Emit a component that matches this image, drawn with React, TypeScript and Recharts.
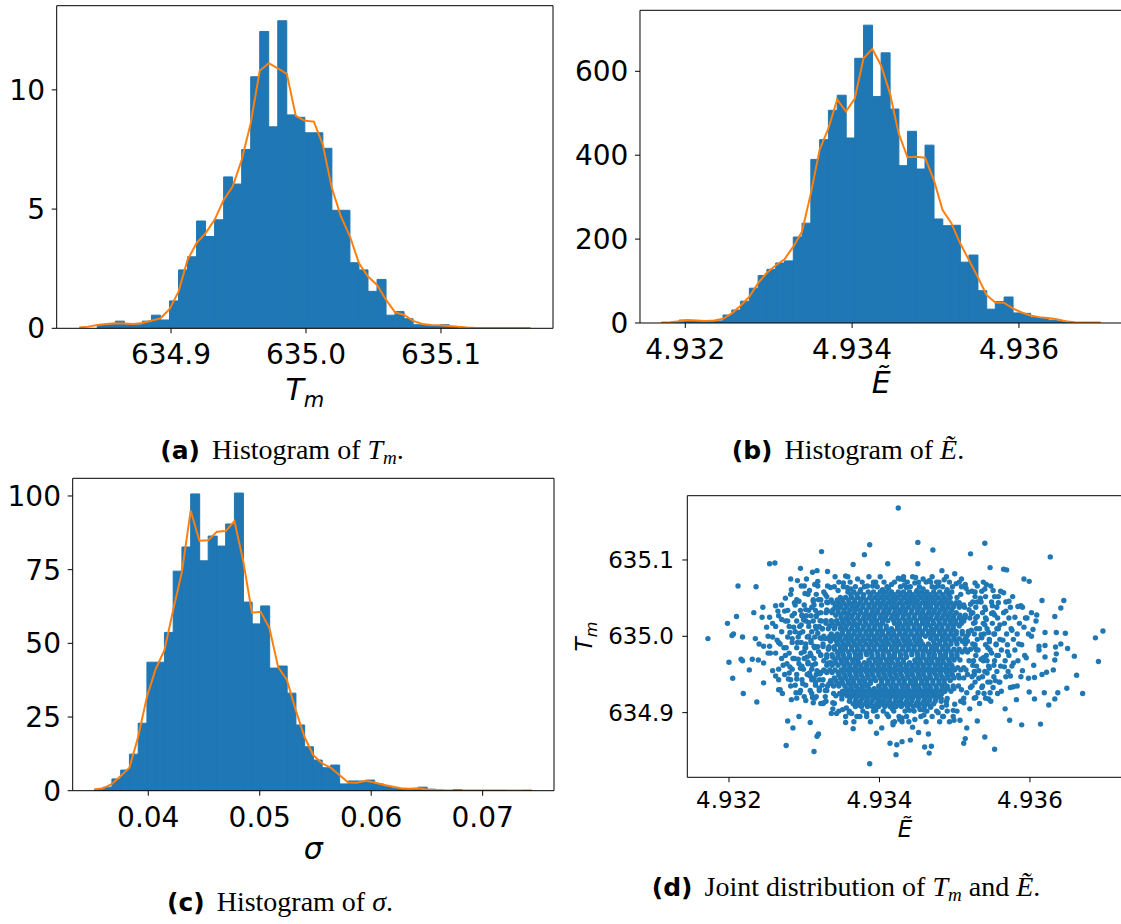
import React from 'react';
import { ComposedChart, ScatterChart, Bar, Line, Scatter, XAxis, YAxis, Label, ReferenceLine } from 'recharts';

const FONT = '"DejaVu Sans", sans-serif';
const SERIF = '"Liberation Serif", "Times New Roman", serif';
const BLUE = '#1f77b4';
const ORANGE = '#ff7f0e';

// ---------- Panel (a): histogram of T_m (density) ----------
const tmRange: [number, number] = [634.832, 635.1663];
const tmAxisDomain: [number, number] = [634.8153, 635.183];
const tmDensityDomain: [number, number] = [0, 13.53];
const tmTicks = [634.9, 635.0, 635.1];
const tmDensityTicks = [0, 5, 10];
const tmBins = [0, 0, 0.15, 0.15, 0.3, 0.15, 0.15, 0.3, 0.55, 0.35, 1.15, 2.45, 3.0, 4.5, 3.85, 4.55, 6.35, 6.05, 7.5, 10.55, 12.45, 8.45, 12.9, 8.95, 8.85, 8.2, 8.2, 7.55, 4.95, 4.95, 2.75, 2.45, 1.55, 2.05, 0.55, 0.7, 0.4, 0.15, 0.15, 0.1, 0.15, 0.05, 0, 0, 0, 0, 0, 0, 0, 0];
const tmCurve = [0.03, 0.07, 0.14, 0.18, 0.21, 0.2, 0.18, 0.22, 0.32, 0.42, 0.8, 1.54, 2.87, 3.57, 3.99, 4.55, 5.38, 5.94, 7.06, 8.6, 10.8, 11.12, 10.9, 10.67, 8.91, 8.7, 8.67, 7.69, 5.87, 4.69, 3.85, 2.73, 2.17, 1.82, 1.19, 0.67, 0.56, 0.31, 0.18, 0.14, 0.13, 0.1, 0.06, 0.03, 0.01, 0.01, 0.01, 0.01, 0.01, 0.01, 0.01];

// ---------- Panel (b): histogram of E~ (density) ----------
const eRange: [number, number] = [4.931715, 4.93698];
const eAxisDomain: [number, number] = [4.931457, 4.937239];
const eDensityDomain: [number, number] = [0, 745.4];
const eTicks = [4.932, 4.934, 4.936];
const eDensityTicks = [0, 200, 400, 600];
const eBins = [1, 1, 7, 6, 4, 4, 5, 19, 31, 52, 83, 113, 128, 143, 148, 205, 238, 390, 437, 507, 543, 441, 631, 710, 540, 644, 510, 375, 457, 367, 424, 248, 232, 233, 145, 162, 77, 33, 51, 62, 24, 23, 13, 11, 7, 5, 2, 1, 1, 0];
const eCurve = [1, 2, 4, 7, 6, 5, 6, 10, 23, 41, 63, 95, 120, 137, 152, 182, 218, 309, 413, 464, 533, 504, 535, 631, 653, 614, 548, 452, 395, 396, 394, 341, 269, 238, 190, 150, 110, 67, 49, 48, 35, 25, 18, 14, 12, 9, 4, 2, 1, 1, 1];

// ---------- Panel (c): histogram of sigma (density) ----------
const sRange: [number, number] = [0.03517, 0.07442];
const sAxisDomain: [number, number] = [0.03322, 0.0764];
const sDensityDomain: [number, number] = [0, 106];
const sTicks = [0.04, 0.05, 0.06, 0.07];
const sDensityTicks = [0, 25, 50, 75, 100];
const sBins = [0.5, 1.2, 4, 7, 12.4, 22.9, 43.6, 43.6, 53.7, 74.5, 82.7, 100.7, 78, 86.4, 83, 90.5, 101, 64, 56.6, 62.7, 41.6, 42.3, 33.1, 22.3, 14.9, 10.4, 7.8, 8.7, 2.3, 3.3, 3.3, 3.6, 2.3, 1.4, 0.8, 0.6, 0.5, 1.2, 0.5, 0.2, 0.1, 0.4, 0.1, 0.1, 0.1, 0.1, 0.1, 0, 0, 0.1];
const sCurve = [0.45, 0.8, 2.3, 5, 7.8, 18.3, 31.9, 41.3, 47.7, 61.3, 74.3, 95, 84.8, 85, 87.9, 88.1, 91.5, 78, 60.4, 60.7, 55.2, 41.9, 37.6, 27.4, 18.3, 12.1, 9.3, 7.8, 5.3, 2.8, 2.7, 3.4, 2.8, 2, 1.4, 0.8, 0.7, 0.8, 0.45, 0.2, 0.1, 0.1, 0.1, 0.1, 0.1, 0.1, 0.05, 0.05, 0.05, 0.05, 0.05];

// ---------- Panel (d): joint samples (E~, T_m) ----------
const jointEDomain: [number, number] = [4.931446, 4.937231];
const jointTmDomain: [number, number] = [634.8153, 635.1842];

// sparse outer samples [E, Tm]
const jointOuter: [number, number][] = [
  [4.93172,634.997],[4.93198,635.017],[4.93210,635.026],[4.93212,635.066],[4.93236,635.065],[4.93204,635.001],[4.93206,635.003],[4.93218,634.999],
  [4.93200,634.966],[4.93216,634.970],[4.93218,634.968],[4.93205,634.945],[4.93227,634.956],[4.93231,634.970],[4.93239,634.969],[4.93235,634.997],
  [4.93233,635.031],[4.93245,635.038],[4.93219,634.925],[4.93237,634.914],[4.93246,634.939],[4.93246,634.987],[4.93254,635.095],[4.93261,635.096],
  [4.93282,635.075],[4.93291,635.073],[4.93295,635.089],[4.93303,635.075],[4.93311,635.084],[4.93317,635.086],[4.93323,635.111],[4.93331,635.085],
  [4.93341,635.078],[4.93355,635.079],[4.93365,635.094],[4.93380,635.107],[4.93387,635.120],[4.93411,635.095],[4.93425,635.168],[4.93278,634.889],
  [4.93285,634.880],[4.93293,634.895],[4.93276,634.857],[4.93308,634.887],[4.93317,634.869],[4.93319,634.872],[4.93313,634.849],[4.93355,634.887],
  [4.93365,634.879],[4.93387,634.833],[4.93396,634.873],[4.93403,634.880],[4.93414,634.860],[4.93422,634.845],[4.93418,634.884],[4.93254,635.025],
  [4.93258,635.017],[4.93265,635.033],[4.93252,634.978],[4.93254,634.987],[4.93266,634.943],[4.93268,634.930],[4.93271,634.925],[4.93282,634.935],
  [4.93283,634.917],[4.93290,634.919],[4.93294,634.926],[4.93302,634.916],[4.93314,634.919],[4.93325,634.912],[4.93336,634.899],[4.93343,634.899],
  [4.93351,634.904],[4.93363,634.899],[4.93374,634.895],[4.93383,634.899],[4.93389,634.909],
  [4.93451,635.123],[4.93471,635.113],[4.93521,635.108],[4.93540,635.122],[4.93627,635.104],[4.93451,635.095],[4.93483,635.086],[4.93500,635.082],
  [4.93547,635.090],[4.93565,635.088],[4.93569,635.087],[4.93592,635.075],[4.93599,635.072],[4.93616,635.047],[4.93645,635.047],[4.93641,635.037],
  [4.93633,635.026],[4.93697,635.007],[4.93687,634.998],[4.93691,634.967],[4.93659,634.974],[4.93650,634.984],[4.93647,635.004],[4.93635,635.005],
  [4.93641,634.990],[4.93634,634.986],[4.93635,634.977],[4.93633,634.969],[4.93620,634.973],[4.93612,634.987],[4.93620,634.988],[4.93662,634.949],
  [4.93670,634.925],[4.93649,634.932],[4.93637,634.926],[4.93631,634.956],[4.93622,634.953],[4.93606,634.946],[4.93599,634.927],[4.93619,634.926],
  [4.93606,634.918],[4.93633,634.918],[4.93625,634.910],[4.93578,634.934],[4.93582,634.917],[4.93573,634.890],[4.93589,634.884],[4.93614,634.885],
  [4.93567,634.905],[4.93553,634.852],[4.93540,634.868],[4.93530,634.889],[4.93516,634.880],[4.93514,634.866],[4.93512,634.860],[4.93507,634.890],
  [4.93499,634.890],[4.93485,634.895],[4.93469,634.856],[4.93460,634.855],[4.93466,634.847],[4.93465,634.872],[4.93452,634.874],[4.93441,634.864],
  [4.93430,634.862],[4.93423,634.858],[4.93444,634.881],[4.93430,634.888],[4.93418,634.887],[4.93427,634.891],[4.93436,634.895],[4.93454,634.904],
  [4.93447,634.891],[4.93604,635.009],[4.93596,635.024],[4.93584,635.039],[4.93602,635.031],[4.93609,635.028],[4.93565,635.057],[4.93558,635.044],
  [4.93542,635.068],[4.93538,635.071],[4.93527,635.070],[4.93514,635.068],[4.93509,635.075],[4.93486,635.074],[4.93476,635.071],[4.93468,635.071],
  [4.93458,635.075],[4.93448,635.077],[4.93432,635.074],[4.93427,635.075],
];

// moderately dense samples around the core [E, Tm]
const jointMiddle: [number, number][] = [
  [4.93250,635.012],[4.93255,634.978],[4.93258,634.955],[4.93262,635.040],[4.93264,634.995],[4.93266,634.930],[4.93270,635.022],[4.93272,634.962],
  [4.93275,635.050],[4.93276,634.985],[4.93279,634.944],[4.93281,635.005],[4.93283,635.061],[4.93285,634.971],[4.93287,635.030],[4.93289,634.926],
  [4.93291,634.992],[4.93293,635.046],[4.93295,634.958],[4.93296,635.015],[4.93298,634.938],[4.93300,634.980],[4.93301,635.056],[4.93303,635.027],
  [4.93305,634.966],[4.93306,635.000],[4.93308,634.948],[4.93310,635.038],[4.93311,634.920],[4.93313,634.987],[4.93314,635.068],[4.93316,635.010],
  [4.93317,634.955],[4.93319,635.048],[4.93320,634.932],[4.93322,634.975],[4.93323,635.020],[4.93325,634.943],[4.93326,635.058],[4.93328,634.997],
  [4.93329,634.915],[4.93331,635.033],[4.93332,634.965],[4.93262,634.948],[4.93268,634.990],[4.93274,635.033],[4.93280,634.952],[4.93286,635.012],
  [4.93292,634.970],[4.93297,635.028],[4.93302,634.990],[4.93307,635.060],[4.93309,634.975],[4.93315,634.940],[4.93318,635.030],[4.93321,634.998],
  [4.93324,635.010],[4.93327,634.955],[4.93330,635.045],[4.93333,634.985],[4.93240,634.990],[4.93244,635.025],[4.93246,634.965],[4.93252,635.000],
  [4.93300,635.066],[4.93318,635.072],[4.93335,635.064],[4.93352,635.070],[4.93362,635.062],[4.93371,635.075],[4.93384,635.066],[4.93395,635.071],
  [4.93404,635.061],[4.93416,635.068],[4.93425,635.076],[4.93436,635.064],[4.93447,635.070],[4.93458,635.062],[4.93466,635.073],[4.93478,635.066],
  [4.93490,635.061],[4.93502,635.069],[4.93515,635.063],[4.93527,635.058],
  [4.93310,634.925],[4.93322,634.912],[4.93338,634.905],[4.93350,634.918],[4.93360,634.900],[4.93372,634.910],[4.93383,634.895],[4.93393,634.906],
  [4.93402,634.915],[4.93410,634.898],[4.93420,634.908],[4.93430,634.893],[4.93440,634.903],[4.93450,634.912],[4.93459,634.897],[4.93468,634.907],
  [4.93478,634.900],[4.93489,634.910],[4.93498,634.903],[4.93508,634.915],[4.93520,634.905],[4.93533,634.912],[4.93545,634.918],
  [4.93518,635.058],[4.93522,635.030],[4.93524,634.990],[4.93526,634.950],[4.93528,634.920],[4.93530,635.045],[4.93533,635.010],[4.93535,634.970],
  [4.93537,634.935],[4.93540,635.062],[4.93542,635.022],[4.93544,634.985],[4.93546,634.958],[4.93548,634.915],[4.93550,635.040],[4.93552,635.003],
  [4.93554,634.942],[4.93556,634.975],[4.93558,635.052],[4.93560,635.015],[4.93562,634.928],[4.93564,634.995],[4.93566,634.960],[4.93568,635.033],
  [4.93570,634.980],[4.93572,635.046],[4.93574,634.948],[4.93576,635.008],[4.93578,634.965],[4.93580,635.025],[4.93583,634.935],[4.93585,634.990],
  [4.93588,635.040],[4.93590,634.955],[4.93592,635.012],[4.93595,634.972],[4.93598,634.945],[4.93602,635.000],[4.93605,634.962],[4.93608,635.020],
  [4.93612,634.982],[4.93616,634.950],[4.93620,635.005],
  [4.93516,635.000],[4.93519,634.968],[4.93521,635.042],[4.93523,634.935],[4.93527,635.018],[4.93529,634.982],[4.93532,634.955],[4.93534,635.050],
  [4.93536,634.998],[4.93539,634.925],[4.93541,635.035],[4.93543,634.968],[4.93545,635.005],[4.93547,634.940],[4.93549,634.978],[4.93551,635.060],
  [4.93553,635.028],[4.93555,634.990],[4.93557,634.925],
  [4.93302,635.035],[4.93306,635.018],[4.93309,634.995],[4.93311,634.962],[4.93313,634.945],[4.93316,635.026],[4.93318,635.004],[4.93319,634.980],
  [4.93321,634.951],[4.93323,635.041],[4.93326,634.968],[4.93328,634.929],[4.93330,635.052],[4.93333,634.938],[4.93304,634.973],[4.93307,634.952],
  [4.93312,635.046],[4.93315,634.986],[4.93320,635.013],[4.93325,634.990],[4.93294,635.004],[4.93297,634.961],[4.93299,635.022],[4.93301,634.985],
  [4.93290,634.944],[4.93287,635.044],[4.93284,634.997],[4.93281,634.960],[4.93278,635.020],[4.93275,634.975],
  [4.93506,635.044],[4.93509,634.930],[4.93512,635.020],[4.93514,634.990],[4.93517,634.950],[4.93519,635.035],[4.93522,635.008],[4.93524,634.962],
  [4.93527,634.985],[4.93530,635.026],[4.93532,634.945],[4.93535,635.002],[4.93538,634.972],[4.93540,635.015],[4.93543,634.952],[4.93546,634.993],
  [4.93549,635.030],[4.93552,634.962],[4.93556,635.010],[4.93559,634.940],
  [4.93345,635.060],[4.93357,635.064],[4.93375,635.061],[4.93391,635.066],[4.93412,635.063],[4.93433,635.067],[4.93450,635.060],[4.93474,635.064],
  [4.93496,635.058],[4.93508,635.055],
  [4.93340,634.912],[4.93356,634.906],[4.93376,634.909],[4.93395,634.903],[4.93417,634.905],[4.93438,634.909],[4.93458,634.904],[4.93483,634.907],
  [4.93500,634.911],[4.93512,634.913],
];

// ring around the core: one T_m level per row, E~ values read along it
const jointRingTm = [
  635.066, 635.055, 635.048, 635.041, 635.034, 635.027, 635.020, 635.013, 635.006, 634.999, 634.992, 634.985, 634.978, 634.971, 634.964, 634.957, 634.950, 634.943, 634.936, 634.929, 634.921, 634.913,
  635.066, 635.059, 635.052, 635.045, 635.038, 635.031, 635.024, 635.017, 635.010, 635.003, 634.996, 634.989, 634.982, 634.975, 634.968, 634.961, 634.954, 634.947, 634.940, 634.933, 634.926, 634.919,
  635.065, 635.071, 635.078, 634.902, 634.895, 634.888,
];
const jointRingE: number[][] = [
  [4.93296,4.93318,4.93331],[4.93282,4.93305,4.93316,4.93328],[4.93290,4.93312,4.93322],[4.93270,4.93288,4.93300,4.93313],
  [4.93278,4.93295,4.93306,4.93315],[4.93266,4.93284,4.93297,4.93309,4.93316],[4.93275,4.93290,4.93302,4.93312],[4.93262,4.93280,4.93294,4.93306,4.93315],
  [4.93270,4.93288,4.93298,4.93310],[4.93258,4.93278,4.93292,4.93304,4.93314],[4.93266,4.93284,4.93296,4.93309],[4.93273,4.93290,4.93302,4.93314],
  [4.93262,4.93280,4.93296,4.93308],[4.93270,4.93287,4.93300,4.93313],[4.93277,4.93293,4.93305,4.93315],[4.93266,4.93284,4.93299,4.93310],
  [4.93274,4.93290,4.93304,4.93316],[4.93282,4.93297,4.93310,4.93320],[4.93288,4.93302,4.93315,4.93324],[4.93295,4.93308,4.93320,4.93330],
  [4.93300,4.93316,4.93328],[4.93312,4.93326,4.93338],
  [4.93530,4.93548],[4.93523,4.93536,4.93561],[4.93527,4.93541,4.93553,4.93577],[4.93524,4.93535,4.93549,4.93568],
  [4.93528,4.93540,4.93556,4.93574,4.93590],[4.93524,4.93537,4.93551,4.93565],[4.93528,4.93541,4.93557,4.93572,4.93594],[4.93525,4.93538,4.93550,4.93566,4.93586],
  [4.93529,4.93543,4.93558,4.93575],[4.93526,4.93539,4.93553,4.93569,4.93583,4.93598],[4.93530,4.93546,4.93560,4.93578],[4.93527,4.93541,4.93555,4.93570,4.93589],
  [4.93531,4.93547,4.93562,4.93580],[4.93528,4.93542,4.93558,4.93572,4.93593],[4.93525,4.93538,4.93553,4.93567,4.93584],[4.93529,4.93545,4.93561,4.93576],
  [4.93526,4.93540,4.93556,4.93571],[4.93523,4.93537,4.93552,4.93568,4.93588],[4.93527,4.93544,4.93560],[4.93521,4.93536,4.93551,4.93574],
  [4.93516,4.93531,4.93547],[4.93512,4.93526,4.93541],
  [4.93340,4.93352,4.93368,4.93380,4.93397,4.93410,4.93428,4.93441,4.93453,4.93470,4.93484,4.93497,4.93509],
  [4.93346,4.93361,4.93377,4.93392,4.93406,4.93420,4.93437,4.93452,4.93462,4.93479,4.93493,4.93506],
  [4.93358,4.93386,4.93401,4.93432,4.93444,4.93470,4.93489],
  [4.93346,4.93360,4.93378,4.93392,4.93405,4.93419,4.93434,4.93446,4.93463,4.93476,4.93490,4.93503],
  [4.93355,4.93370,4.93397,4.93412,4.93426,4.93455,4.93470,4.93484,4.93498],
  [4.93366,4.93388,4.93420,4.93439,4.93462,4.93480,4.93493],
];

// dense core: one T_m level per row, E~ values read along that row
const jointCoreTm = [
  635.058, 635.051, 635.044, 635.038, 635.031, 635.024, 635.017, 635.010, 635.003, 634.997, 634.990, 634.983, 634.976, 634.969, 634.962, 634.956, 634.949, 634.942, 634.935, 634.928, 634.922, 634.915, 634.908,
  635.0545, 635.0475, 635.041, 635.0345, 635.0275, 635.0205, 635.0135, 635.0065, 635.000, 634.9935, 634.9865, 634.9795, 634.9725, 634.9655, 634.959, 634.9525, 634.9455, 634.9385, 634.9315, 634.925, 634.9185, 634.9115,
];
const jointCoreE: number[][] = [
  [4.93358,4.93366,4.93374,4.93385,4.93392,4.93401,4.93409,4.93416,4.93425,4.93432,4.93440,4.93449,4.93456,4.93463,4.93472,4.93480,4.93489],
  [4.93348,4.93355,4.93363,4.93371,4.93378,4.93387,4.93394,4.93402,4.93410,4.93418,4.93424,4.93433,4.93441,4.93447,4.93455,4.93463,4.93470,4.93478,4.93486,4.93494,4.93503],
  [4.93331,4.93338,4.93345,4.93352,4.93360,4.93367,4.93374,4.93382,4.93390,4.93397,4.93404,4.93412,4.93419,4.93427,4.93435,4.93442,4.93449,4.93457,4.93464,4.93472,4.93480,4.93487,4.93495,4.93502],
  [4.93341,4.93348,4.93356,4.93364,4.93370,4.93378,4.93386,4.93393,4.93401,4.93409,4.93416,4.93423,4.93431,4.93438,4.93446,4.93453,4.93461,4.93468,4.93476,4.93484,4.93491,4.93498,4.93506,4.93513],
  [4.93322,4.93329,4.93337,4.93345,4.93352,4.93359,4.93367,4.93375,4.93382,4.93390,4.93397,4.93405,4.93412,4.93420,4.93427,4.93434,4.93442,4.93450,4.93457,4.93465,4.93472,4.93479,4.93487,4.93494,4.93502],
  [4.93349,4.93356,4.93363,4.93371,4.93379,4.93386,4.93393,4.93401,4.93408,4.93416,4.93423,4.93431,4.93439,4.93446,4.93454,4.93461,4.93468,4.93476,4.93483,4.93491,4.93498,4.93506,4.93513,4.93520],
  [4.93329,4.93337,4.93345,4.93352,4.93360,4.93367,4.93374,4.93382,4.93390,4.93397,4.93404,4.93420,4.93427,4.93435,4.93442,4.93449,4.93457,4.93464,4.93472,4.93480,4.93487,4.93495,4.93502,4.93509],
  [4.93324,4.93332,4.93340,4.93348,4.93355,4.93363,4.93371,4.93378,4.93386,4.93393,4.93401,4.93409,4.93416,4.93424,4.93431,4.93438,4.93446,4.93453,4.93461,4.93469,4.93476,4.93483,4.93491,4.93498],
  [4.93336,4.93344,4.93351,4.93359,4.93366,4.93374,4.93382,4.93389,4.93397,4.93404,4.93412,4.93419,4.93427,4.93434,4.93442,4.93450,4.93457,4.93465,4.93472,4.93480,4.93487,4.93495,4.93502,4.93510,4.93518],
  [4.93323,4.93331,4.93339,4.93347,4.93355,4.93362,4.93370,4.93378,4.93385,4.93393,4.93400,4.93408,4.93415,4.93423,4.93431,4.93438,4.93446,4.93453,4.93468,4.93476,4.93484,4.93491,4.93499,4.93506,4.93514],
  [4.93344,4.93352,4.93359,4.93367,4.93374,4.93382,4.93389,4.93397,4.93405,4.93412,4.93420,4.93427,4.93435,4.93442,4.93450,4.93457,4.93465,4.93473,4.93480,4.93488,4.93495,4.93503],
  [4.93332,4.93340,4.93348,4.93355,4.93363,4.93371,4.93378,4.93386,4.93393,4.93401,4.93408,4.93416,4.93423,4.93431,4.93439,4.93446,4.93454,4.93461,4.93469,4.93476,4.93484,4.93491,4.93499,4.93506,4.93514,4.93521],
  [4.93322,4.93330,4.93337,4.93345,4.93352,4.93360,4.93368,4.93375,4.93383,4.93390,4.93398,4.93405,4.93413,4.93420,4.93428,4.93435,4.93443,4.93451,4.93458,4.93466,4.93473,4.93481,4.93488,4.93496,4.93503],
  [4.93341,4.93349,4.93356,4.93364,4.93371,4.93386,4.93394,4.93401,4.93409,4.93416,4.93424,4.93432,4.93447,4.93454,4.93462,4.93469,4.93477,4.93484,4.93492,4.93499,4.93507],
  [4.93330,4.93337,4.93345,4.93353,4.93360,4.93368,4.93375,4.93383,4.93390,4.93398,4.93406,4.93413,4.93421,4.93428,4.93436,4.93443,4.93451,4.93458,4.93466,4.93474,4.93481,4.93489,4.93496],
  [4.93326,4.93334,4.93341,4.93349,4.93357,4.93364,4.93372,4.93379,4.93387,4.93394,4.93402,4.93410,4.93417,4.93425,4.93432,4.93440,4.93447,4.93455,4.93462,4.93470,4.93478,4.93485,4.93493,4.93500,4.93508,4.93515],
  [4.93346,4.93354,4.93361,4.93369,4.93376,4.93384,4.93391,4.93399,4.93407,4.93414,4.93422,4.93429,4.93437,4.93444,4.93452,4.93459,4.93467,4.93475,4.93482,4.93490,4.93497,4.93505],
  [4.93335,4.93342,4.93350,4.93358,4.93365,4.93373,4.93380,4.93388,4.93395,4.93403,4.93411,4.93418,4.93426,4.93433,4.93441,4.93448,4.93456,4.93463,4.93471,4.93479,4.93486,4.93494],
  [4.93331,4.93339,4.93346,4.93354,4.93362,4.93369,4.93377,4.93384,4.93399,4.93407,4.93415,4.93422,4.93430,4.93437,4.93445,4.93452,4.93460,4.93467,4.93475,4.93483,4.93490,4.93498,4.93505],
  [4.93351,4.93359,4.93366,4.93374,4.93381,4.93389,4.93396,4.93404,4.93412,4.93419,4.93427,4.93434,4.93442,4.93449,4.93457,4.93464,4.93472,4.93480,4.93487,4.93495],
  [4.93342,4.93350,4.93357,4.93365,4.93373,4.93380,4.93388,4.93395,4.93403,4.93411,4.93418,4.93426,4.93433,4.93441,4.93448,4.93456,4.93463,4.93471,4.93479],
  [4.93360,4.93368,4.93375,4.93383,4.93390,4.93398,4.93406,4.93413,4.93421,4.93428,4.93436,4.93443,4.93451,4.93459,4.93466,4.93474,4.93482,4.93489],
  [4.93368,4.93376,4.93384,4.93391,4.93399,4.93407,4.93414,4.93422,4.93429,4.93437,4.93445,4.93452,4.93460,4.93468],
  [4.93362,4.93370,4.93379,4.93388,4.93397,4.93405,4.93413,4.93420,4.93428,4.93436,4.93444,4.93452,4.93460,4.93467,4.93475,4.93484,4.93492],
  [4.93336,4.93344,4.93351,4.93359,4.93367,4.93375,4.93382,4.93390,4.93398,4.93406,4.93414,4.93421,4.93429,4.93437,4.93444,4.93451,4.93459,4.93467,4.93474,4.93482,4.93490],
  [4.93342,4.93349,4.93356,4.93363,4.93371,4.93378,4.93386,4.93394,4.93401,4.93408,4.93416,4.93423,4.93431,4.93439,4.93446,4.93453,4.93461,4.93468,4.93476,4.93483,4.93491,4.93499,4.93506,4.93512],
  [4.93330,4.93338,4.93345,4.93353,4.93361,4.93368,4.93375,4.93383,4.93391,4.93398,4.93406,4.93413,4.93421,4.93428,4.93435,4.93443,4.93451,4.93458,4.93466,4.93473,4.93481,4.93488,4.93496],
  [4.93342,4.93349,4.93357,4.93364,4.93372,4.93380,4.93387,4.93394,4.93402,4.93409,4.93417,4.93424,4.93432,4.93439,4.93447,4.93455,4.93462,4.93469,4.93477,4.93485,4.93492,4.93499,4.93507,4.93514],
  [4.93321,4.93329,4.93336,4.93343,4.93351,4.93358,4.93366,4.93374,4.93381,4.93389,4.93396,4.93404,4.93411,4.93419,4.93426,4.93434,4.93441,4.93449,4.93457,4.93464,4.93471,4.93479,4.93487,4.93494,4.93501,4.93509],
  [4.93334,4.93341,4.93349,4.93356,4.93364,4.93371,4.93379,4.93386,4.93394,4.93401,4.93409,4.93424,4.93431,4.93438,4.93446,4.93453,4.93461,4.93468,4.93476,4.93483,4.93491,4.93498,4.93506],
  [4.93351,4.93359,4.93367,4.93374,4.93382,4.93389,4.93397,4.93404,4.93412,4.93419,4.93427,4.93435,4.93442,4.93450,4.93457,4.93465,4.93472,4.93480,4.93487,4.93495,4.93502,4.93510,4.93518],
  [4.93326,4.93334,4.93341,4.93348,4.93356,4.93363,4.93371,4.93378,4.93386,4.93393,4.93401,4.93408,4.93416,4.93423,4.93431,4.93438,4.93446,4.93453,4.93461,4.93469,4.93476,4.93484,4.93491,4.93499],
  [4.93335,4.93343,4.93350,4.93358,4.93365,4.93373,4.93380,4.93388,4.93395,4.93403,4.93410,4.93418,4.93425,4.93433,4.93440,4.93448,4.93455,4.93472,4.93480,4.93487,4.93495,4.93502,4.93510,4.93517],
  [4.93318,4.93325,4.93333,4.93340,4.93348,4.93355,4.93363,4.93370,4.93378,4.93386,4.93393,4.93401,4.93408,4.93416,4.93423,4.93431,4.93438,4.93446,4.93454,4.93461,4.93469,4.93476,4.93484,4.93491],
  [4.93344,4.93351,4.93359,4.93367,4.93374,4.93382,4.93389,4.93397,4.93405,4.93412,4.93420,4.93427,4.93435,4.93443,4.93450,4.93458,4.93465,4.93472,4.93480,4.93488,4.93495,4.93503,4.93510,4.93517],
  [4.93330,4.93338,4.93345,4.93353,4.93360,4.93368,4.93375,4.93390,4.93398,4.93405,4.93413,4.93420,4.93428,4.93436,4.93451,4.93458,4.93466,4.93473,4.93481,4.93488,4.93496,4.93503],
  [4.93335,4.93342,4.93350,4.93357,4.93365,4.93372,4.93380,4.93387,4.93395,4.93402,4.93410,4.93417,4.93425,4.93432,4.93440,4.93448,4.93455,4.93463,4.93470,4.93478,4.93485,4.93493],
  [4.93353,4.93361,4.93368,4.93376,4.93383,4.93391,4.93399,4.93406,4.93414,4.93421,4.93429,4.93436,4.93444,4.93451,4.93459,4.93466,4.93474,4.93482,4.93489,4.93497,4.93504,4.93512],
  [4.93322,4.93330,4.93337,4.93345,4.93352,4.93360,4.93368,4.93375,4.93383,4.93390,4.93398,4.93405,4.93413,4.93420,4.93428,4.93436,4.93443,4.93451,4.93458,4.93466,4.93473,4.93481,4.93489,4.93496],
  [4.93340,4.93348,4.93355,4.93363,4.93370,4.93378,4.93385,4.93393,4.93401,4.93408,4.93416,4.93423,4.93431,4.93438,4.93446,4.93453,4.93461,4.93468,4.93476,4.93484,4.93491,4.93499,4.93506,4.93512],
  [4.93336,4.93344,4.93351,4.93359,4.93366,4.93374,4.93381,4.93388,4.93403,4.93411,4.93418,4.93426,4.93433,4.93441,4.93448,4.93456,4.93463,4.93471,4.93479,4.93486],
  [4.93356,4.93363,4.93371,4.93378,4.93386,4.93393,4.93401,4.93408,4.93416,4.93423,4.93431,4.93438,4.93446,4.93453,4.93461,4.93468,4.93476,4.93484,4.93491,4.93499],
  [4.93339,4.93347,4.93354,4.93362,4.93369,4.93377,4.93385,4.93392,4.93400,4.93407,4.93415,4.93422,4.93430,4.93437,4.93445,4.93453,4.93460,4.93468,4.93475,4.93483],
  [4.93361,4.93369,4.93377,4.93384,4.93392,4.93399,4.93407,4.93414,4.93422,4.93429,4.93437,4.93444,4.93452,4.93460,4.93467,4.93475,4.93482,4.93490],
  [4.93365,4.93373,4.93381,4.93388,4.93396,4.93403,4.93411,4.93418,4.93426,4.93433,4.93441,4.93449,4.93456,4.93464,4.93472],
];

const rowsToPoints = (tms: number[], rows: number[][]) => rows.flatMap((row, i) => row.map((x) => ({ x, y: tms[i] })));

const jointData = [
  ...rowsToPoints(jointCoreTm, jointCoreE),
  ...rowsToPoints(jointRingTm, jointRingE),
  ...jointMiddle.map(([x, y]) => ({ x, y })),
  ...jointOuter.map(([x, y]) => ({ x, y })),
];

// ---------- label renderers ----------
const vbOf = (props: any) => props?.viewBox ?? { x: 0, y: 0, width: 0, height: 0 };

const tmXLabel = (size: number, dy: number) => (props: any) => {
  const vb = vbOf(props);
  return (
    <text x={vb.x + vb.width / 2} y={vb.y + dy} textAnchor="middle" fontFamily={FONT} fontStyle="italic" fontSize={size} fill="#000">
      T<tspan fontSize={size * 0.7} dy={size * 0.23}>m</tspan>
    </text>
  );
};

const plainXLabel = (txt: string, size: number, dy: number) => (props: any) => {
  const vb = vbOf(props);
  return (
    <text x={vb.x + vb.width / 2} y={vb.y + dy} textAnchor="middle" fontFamily={FONT} fontStyle="italic" fontSize={size} fill="#000">
      {txt}
    </text>
  );
};

const tmYLabel = (size: number, fromPlot: number) => (props: any) => {
  const vb = vbOf(props);
  const x = vb.x + vb.width - fromPlot;
  const y = vb.y + vb.height / 2;
  return (
    <text x={x} y={y} transform={`rotate(-90 ${x} ${y})`} textAnchor="middle" fontFamily={FONT} fontStyle="italic" fontSize={size} fill="#000">
      T<tspan fontSize={size * 0.7} dy={size * 0.23}>m</tspan>
    </text>
  );
};

// ---------- histogram panel ----------
type HistProps = {
  left: number; top: number; width: number; height: number;
  margin: { top: number; right: number; bottom: number; left: number };
  yAxisWidth: number;
  range: [number, number]; bins: number[]; curve: number[];
  xDomain: [number, number]; yDomain: [number, number];
  xTicks: number[]; yTicks: number[]; digits: number;
  xLabel: (props: any) => React.ReactElement;
};

function HistPanel(p: HistProps) {
  const n = p.bins.length;
  const w = (p.range[1] - p.range[0]) / n;
  const barData = p.bins.map((v, i) => ({ x: p.range[0] + (i + 0.5) * w, y: v }));
  const lineData = p.curve.map((v, i) => ({ x: p.range[0] + i * w, y: v }));
  const tickStyle = { fontSize: 28, fill: '#000', fontFamily: FONT };
  return (
    <div style={{ position: 'absolute', left: p.left, top: p.top }}>
      <ComposedChart width={p.width} height={p.height} data={barData} margin={p.margin} barCategoryGap={0} barGap={0}>
        <XAxis xAxisId="bars" dataKey="x" type="number" domain={p.xDomain} ticks={p.xTicks} interval={0} allowDataOverflow
          tickFormatter={(v: number) => v.toFixed(p.digits)} tickSize={5} tickMargin={11} height={80} stroke="#000" tick={tickStyle}>
          <Label content={p.xLabel} />
        </XAxis>
        <XAxis xAxisId="curve" dataKey="x" type="number" domain={p.xDomain} allowDataOverflow hide />
        <YAxis yAxisId="y" type="number" domain={p.yDomain} ticks={p.yTicks} interval={0} allowDataOverflow
          tickSize={5} tickMargin={6.7} width={p.yAxisWidth} stroke="#000" tick={tickStyle} />
        <Bar xAxisId="bars" yAxisId="y" dataKey="y" fill={BLUE} stroke={BLUE} strokeWidth={1} isAnimationActive={false} />
        <Line xAxisId="curve" yAxisId="y" data={lineData} dataKey="y" type="linear" stroke={ORANGE} strokeWidth={2} dot={false} isAnimationActive={false} />
        <ReferenceLine xAxisId="bars" yAxisId="y" y={p.yDomain[1]} stroke="#000" strokeWidth={1} />
        <ReferenceLine xAxisId="bars" yAxisId="y" x={p.xDomain[1]} stroke="#000" strokeWidth={1} />
      </ComposedChart>
    </div>
  );
}

const dotShape = (props: any) => <circle cx={props.cx} cy={props.cy} r={2.7} fill={BLUE} />;

function JointPanel() {
  const tickStyle = { fontSize: 23, fill: '#000', fontFamily: FONT };
  return (
    <div style={{ position: 'absolute', left: 560, top: 470 }}>
      <ScatterChart width={564.6} height={420} margin={{ top: 25.7, right: 2, bottom: 32.7, left: 0 }}>
        <XAxis dataKey="x" type="number" domain={jointEDomain} ticks={eTicks} interval={0} allowDataOverflow
          tickFormatter={(v: number) => v.toFixed(3)} tickSize={5} tickMargin={9.4} height={80} stroke="#000" tick={tickStyle}>
          <Label content={plainXLabel('\u1EBC', 23, 59.4)} />
        </XAxis>
        <YAxis dataKey="y" type="number" domain={jointTmDomain} ticks={tmTicks} interval={0} allowDataOverflow
          tickFormatter={(v: number) => v.toFixed(1)} tickSize={5} tickMargin={8.3} width={127.3} stroke="#000" tick={tickStyle}>
          <Label content={tmYLabel(23, 95.3)} />
        </YAxis>
        <Scatter data={jointData} fill={BLUE} shape={dotShape} isAnimationActive={false} />
        <ReferenceLine y={jointTmDomain[1]} stroke="#000" strokeWidth={1} />
        <ReferenceLine x={jointEDomain[1]} stroke="#000" strokeWidth={1} />
      </ScatterChart>
    </div>
  );
}

function Caption({ x, y, tag, children }: { x: number; y: number; tag: string; children: React.ReactNode }) {
  return (
    <text x={x} y={y} textAnchor="middle" fontFamily={SERIF} fontSize={28} fill="#000" style={{ whiteSpace: 'pre' }}>
      <tspan fontFamily={FONT} fontWeight="bold" fontSize={25}>{tag}</tspan>
      {children}
    </text>
  );
}

export default function App() {
  return (
    <div style={{ position: 'fixed', left: 0, top: 0, width: 1121, height: 924, overflow: 'hidden', background: '#fff' }}>
      <HistPanel left={0} top={0} width={560} height={420} margin={{ top: 5.7, right: 7, bottom: 11.7, left: 0 }} yAxisWidth={56.7}
        range={tmRange} bins={tmBins} curve={tmCurve} xDomain={tmAxisDomain} yDomain={tmDensityDomain}
        xTicks={tmTicks} yTicks={tmDensityTicks} digits={1} xLabel={tmXLabel(30, 71.3)} />
      <HistPanel left={560} top={0} width={564.3} height={420} margin={{ top: 10.3, right: 2, bottom: 17, left: 0 }} yAxisWidth={80}
        range={eRange} bins={eBins} curve={eCurve} xDomain={eAxisDomain} yDomain={eDensityDomain}
        xTicks={eTicks} yTicks={eDensityTicks} digits={3} xLabel={plainXLabel('\u1EBC', 30, 70.3)} />
      <HistPanel left={0} top={470} width={560} height={420} margin={{ top: 8.3, right: 6, bottom: 19.3, left: 0 }} yAxisWidth={72.7}
        range={sRange} bins={sBins} curve={sCurve} xDomain={sAxisDomain} yDomain={sDensityDomain}
        xTicks={sTicks} yTicks={sDensityTicks} digits={2} xLabel={plainXLabel('\u03C3', 30, 68)} />
      <JointPanel />
      <svg width={1121} height={924} style={{ position: 'absolute', left: 0, top: 0, pointerEvents: 'none' }}>
        <Caption x={282} y={459} tag="(a)">
          <tspan dx={12}>Histogram of </tspan>
          <tspan fontStyle="italic">T</tspan>
          <tspan fontStyle="italic" fontSize={19} dy={5}>m</tspan>
          <tspan dy={-5}>.</tspan>
        </Caption>
        <Caption x={848} y={459} tag="(b)">
          <tspan dx={12}>Histogram of </tspan>
          <tspan fontStyle="italic">{'\u1EBC'}</tspan>
          <tspan>.</tspan>
        </Caption>
        <Caption x={280} y={911} tag="(c)">
          <tspan dx={12}>Histogram of </tspan>
          <tspan fontStyle="italic">{'\u03C3'}</tspan>
          <tspan>.</tspan>
        </Caption>
        <Caption x={846} y={896} tag="(d)">
          <tspan dx={12}>Joint distribution of </tspan>
          <tspan fontStyle="italic">T</tspan>
          <tspan fontStyle="italic" fontSize={19} dy={5}>m</tspan>
          <tspan dy={-5}> and </tspan>
          <tspan fontStyle="italic">{'\u1EBC'}</tspan>
          <tspan>.</tspan>
        </Caption>
      </svg>
    </div>
  );
}
